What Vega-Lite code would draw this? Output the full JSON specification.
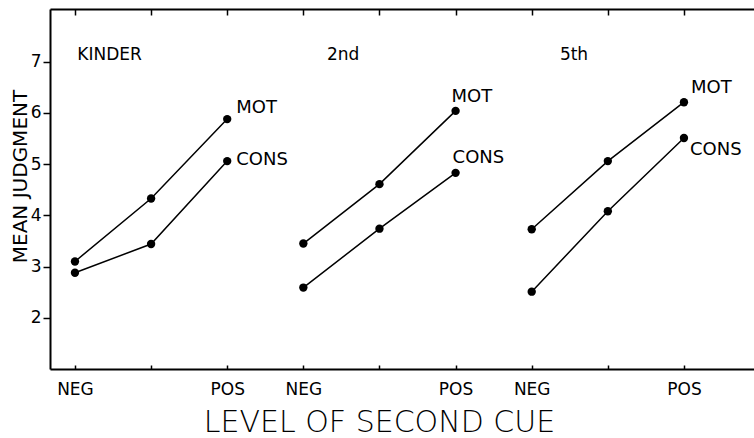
{
  "$schema": "https://vega.github.io/schema/vega-lite/v6.json",
  "autosize": "none",
  "padding": {"left": 50, "top": 9, "right": 0, "bottom": 69},
  "width": 704,
  "height": 360,
  "config": {
    "view": {"stroke": null},
    "font": "DejaVu Sans",
    "axis": {"grid": false, "domainColor": "black", "tickColor": "black", "labelColor": "black", "titleColor": "black", "domainWidth": 2, "tickWidth": 1.5, "labelFontWeight": "normal"}
  },
  "datasets": {
    "main": [
      {"grade": "KINDER", "series": "MOT", "level": "NEG", "step": 1, "value": 3.10},
      {"grade": "KINDER", "series": "MOT", "level": "MID", "step": 2, "value": 4.33},
      {"grade": "KINDER", "series": "MOT", "level": "POS", "step": 3, "value": 5.88},
      {"grade": "KINDER", "series": "CONS", "level": "NEG", "step": 1, "value": 2.88},
      {"grade": "KINDER", "series": "CONS", "level": "MID", "step": 2, "value": 3.44},
      {"grade": "KINDER", "series": "CONS", "level": "POS", "step": 3, "value": 5.06},
      {"grade": "2nd", "series": "MOT", "level": "NEG", "step": 4, "value": 3.45},
      {"grade": "2nd", "series": "MOT", "level": "MID", "step": 5, "value": 4.61},
      {"grade": "2nd", "series": "MOT", "level": "POS", "step": 6, "value": 6.04},
      {"grade": "2nd", "series": "CONS", "level": "NEG", "step": 4, "value": 2.59},
      {"grade": "2nd", "series": "CONS", "level": "MID", "step": 5, "value": 3.74},
      {"grade": "2nd", "series": "CONS", "level": "POS", "step": 6, "value": 4.83},
      {"grade": "5th", "series": "MOT", "level": "NEG", "step": 7, "value": 3.73},
      {"grade": "5th", "series": "MOT", "level": "MID", "step": 8, "value": 5.06},
      {"grade": "5th", "series": "MOT", "level": "POS", "step": 9, "value": 6.21},
      {"grade": "5th", "series": "CONS", "level": "NEG", "step": 7, "value": 2.51},
      {"grade": "5th", "series": "CONS", "level": "MID", "step": 8, "value": 4.08},
      {"grade": "5th", "series": "CONS", "level": "POS", "step": 9, "value": 5.51}
    ],
    "headers": [
      {"label": "KINDER", "step": 1.03, "value": 7.13},
      {"label": "2nd", "step": 4.31, "value": 7.13},
      {"label": "5th", "step": 7.37, "value": 7.13}
    ]
  },
  "data": {"name": "main"},
  "encoding": {
    "x": {
      "field": "step", "type": "quantitative",
      "scale": {"domain": [0.672, 9.92], "nice": false, "zero": false},
      "axis": null
    },
    "y": {
      "field": "value", "type": "quantitative",
      "scale": {"domain": [1, 8.03], "nice": false, "zero": false},
      "axis": {
        "values": [2, 3, 4, 5, 6, 7],
        "tickSize": 7,
        "labelPadding": 2,
        "labelFontSize": 17,
        "title": "MEAN  JUDGMENT",
        "titleFontSize": 20,
        "titleFontWeight": "normal",
        "titlePadding": 0,
        "titleY": 167
      }
    }
  },
  "layer": [
    {
      "mark": {"type": "line", "color": "black", "strokeWidth": 1.5},
      "encoding": {
        "detail": [{"field": "grade"}, {"field": "series"}],
        "x": {
          "field": "step", "type": "quantitative",
          "scale": {"domain": [0.672, 9.92], "nice": false, "zero": false},
          "axis": {
            "orient": "bottom",
            "values": [1, 2, 3, 4, 5, 6, 7, 8, 9],
            "labelExpr": "(datum.value == 1 || datum.value == 4 || datum.value == 7) ? 'NEG' : ((datum.value == 3 || datum.value == 6 || datum.value == 9) ? 'POS' : '')",
            "tickSize": -4,
            "labelPadding": 16,
            "labelFontSize": 17,
            "labelBaseline": "top",
            "title": "LEVEL OF SECOND CUE",
            "titleFontSize": 30,
            "titleFontWeight": "lighter",
            "titlePadding": 10,
            "titleX": 329
          }
        }
      }
    },
    {
      "mark": {"type": "point", "filled": true, "color": "black", "size": 70, "opacity": 1},
      "encoding": {
        "x": {
          "field": "step", "type": "quantitative",
          "scale": {"domain": [0.672, 9.92], "nice": false, "zero": false},
          "axis": {"orient": "top", "values": [1, 2, 3, 4, 5, 6, 7, 8, 9], "labels": false, "tickSize": -6, "title": null}
        }
      }
    },
    {
      "transform": [{"filter": "datum.level == 'POS' && datum.grade == 'KINDER' && datum.series == 'MOT'"}],
      "mark": {"type": "text", "align": "left", "baseline": "middle", "fontSize": 18, "color": "black", "dx": 9, "dy": -11},
      "encoding": {"text": {"field": "series"}}
    },
    {
      "transform": [{"filter": "datum.level == 'POS' && datum.grade == 'KINDER' && datum.series == 'CONS'"}],
      "mark": {"type": "text", "align": "left", "baseline": "middle", "fontSize": 18, "color": "black", "dx": 9, "dy": -1},
      "encoding": {"text": {"field": "series"}}
    },
    {
      "transform": [{"filter": "datum.level == 'POS' && datum.grade == '2nd' && datum.series == 'MOT'"}],
      "mark": {"type": "text", "align": "left", "baseline": "middle", "fontSize": 18, "color": "black", "dx": -4, "dy": -14},
      "encoding": {"text": {"field": "series"}}
    },
    {
      "transform": [{"filter": "datum.level == 'POS' && datum.grade == '2nd' && datum.series == 'CONS'"}],
      "mark": {"type": "text", "align": "left", "baseline": "middle", "fontSize": 18, "color": "black", "dx": -3, "dy": -15},
      "encoding": {"text": {"field": "series"}}
    },
    {
      "transform": [{"filter": "datum.level == 'POS' && datum.grade == '5th' && datum.series == 'MOT'"}],
      "mark": {"type": "text", "align": "left", "baseline": "middle", "fontSize": 18, "color": "black", "dx": 7, "dy": -14},
      "encoding": {"text": {"field": "series"}}
    },
    {
      "transform": [{"filter": "datum.level == 'POS' && datum.grade == '5th' && datum.series == 'CONS'"}],
      "mark": {"type": "text", "align": "left", "baseline": "middle", "fontSize": 18, "color": "black", "dx": 6, "dy": 12},
      "encoding": {"text": {"field": "series"}}
    },
    {
      "data": {"name": "headers"},
      "mark": {"type": "text", "align": "left", "baseline": "middle", "fontSize": 17, "color": "black"},
      "encoding": {"text": {"field": "label"}}
    }
  ]
}
